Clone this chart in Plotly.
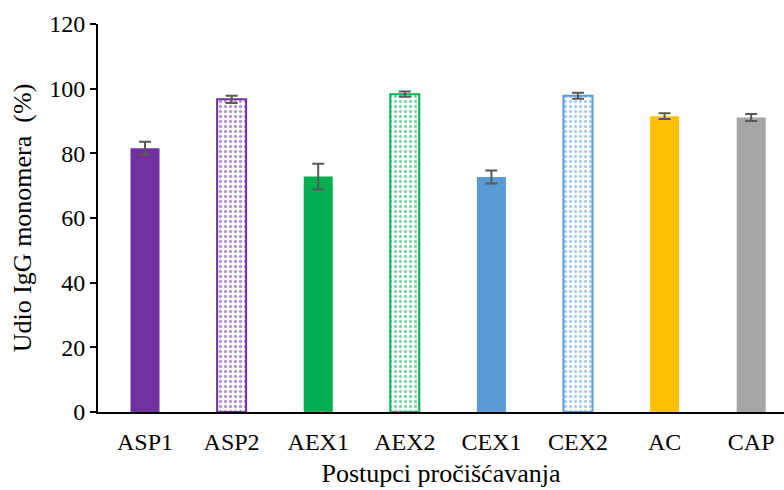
import plotly.graph_objects as go

categories = ["ASP1", "ASP2", "AEX1", "AEX2", "CEX1", "CEX2", "AC", "CAP"]
values = [81.6, 96.7, 72.8, 98.3, 72.7, 97.8, 91.5, 91.1]
errors = [2.0, 1.1, 4.0, 0.8, 2.0, 0.9, 0.9, 1.1]
colors = ["#7030A0", "#7030A0", "#00B050", "#00B050", "#5B9BD5", "#5B9BD5", "#FFC000", "#A5A5A5"]
patterned = [False, True, False, True, False, True, False, False]

fig = go.Figure()
for cat, v, e, c, p in zip(categories, values, errors, colors, patterned):
    if p:
        marker = dict(
            color="white",
            line=dict(color=c, width=2),
            pattern=dict(shape=".", fgcolor=c, bgcolor="white",
                         fillmode="overlay", size=5, solidity=0.35),
        )
    else:
        marker = dict(color=c, line=dict(width=0))
    fig.add_trace(go.Bar(
        x=[cat], y=[v], width=0.335, marker=marker,
        error_y=dict(type="data", array=[e], visible=True,
                     color="#595959", thickness=2, width=6),
    ))

font = "Liberation Serif, Times New Roman, serif"
fig.update_layout(
    width=784, height=490,
    margin=dict(l=98, r=0, t=24, b=78),
    plot_bgcolor="white", paper_bgcolor="white",
    showlegend=False,
    barmode="overlay",
    font=dict(family=font, size=24, color="black"),
    xaxis=dict(
        categoryorder="array", categoryarray=categories,
        range=[-0.543, 7.379],
        showline=True, linecolor="black", linewidth=2,
        ticks="outside", ticklen=7, tickcolor="rgba(0,0,0,0)",
        showgrid=False,
        tickfont=dict(size=24, family=font),
        title=dict(text="Postupci pročišćavanja", font=dict(size=26, family=font), standoff=10),
    ),
    yaxis=dict(
        range=[0, 120], dtick=20,
        showline=True, linecolor="black", linewidth=2,
        ticks="outside", ticklen=6, tickwidth=1.5, tickcolor="black",
        showgrid=False, zeroline=False,
        tickfont=dict(size=24, family=font),
        title=dict(text="Udio IgG monomera  (%)", font=dict(size=26, family=font), standoff=10),
    ),
)

fig.write_html("out.html")
